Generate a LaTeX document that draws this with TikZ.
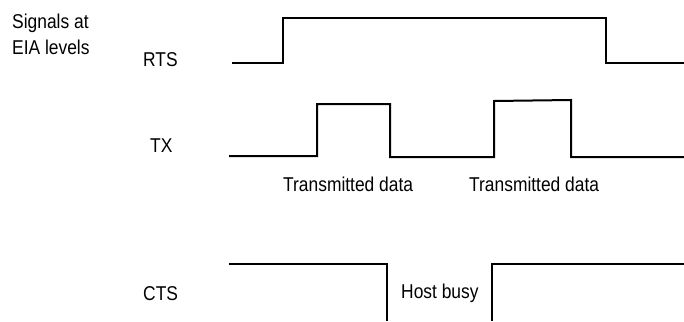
\documentclass[tikz,border=0pt]{standalone}
\usepackage{fontspec}
\setmainfont{Liberation Sans}[FakeStretch=0.87]
\begin{document}
\begin{tikzpicture}[x=1pt,y=-1pt,
  lbl/.style={inner sep=0pt,anchor=base west,font=\fontsize{20}{24}\selectfont},
  wave/.style={line width=2pt,line join=miter},
  wavethin/.style={line width=1.6pt,line join=miter}]
\useasboundingbox (0,0) rectangle (684,321);
% labels
\node[lbl] (sig) at (12,29) {Signals at};
\node[lbl] (eia) at (12,54) {EIA levels};
\node[lbl] (rts) at (143,66) {RTS};
\node[lbl] (tx) at (150,152) {TX};
\node[lbl] (td1) at (283,191) {Transmitted data};
\node[lbl] (td2) at (469,191) {Transmitted data};
\node[lbl] (hb) at (401,298) {Host busy};
\node[lbl] (cts) at (143,300) {CTS};
% RTS waveform
\draw[wave] (232,63) -- (283,63) -- (283,18) -- (606,18) -- (606,63) -- (684,63);
% TX waveform
\draw[wave] (229,156) -- (317,156) -- (317,104) -- (390,104) -- (390,157) -- (494,157)
  -- (494,101) -- (571,100) -- (571,157) -- (684,157);
% CTS waveform
\draw[wavethin] (229,264) -- (387,264) -- (387,321);
\draw[wavethin] (492,321) -- (492,264) -- (684,264);
\end{tikzpicture}
\end{document}
